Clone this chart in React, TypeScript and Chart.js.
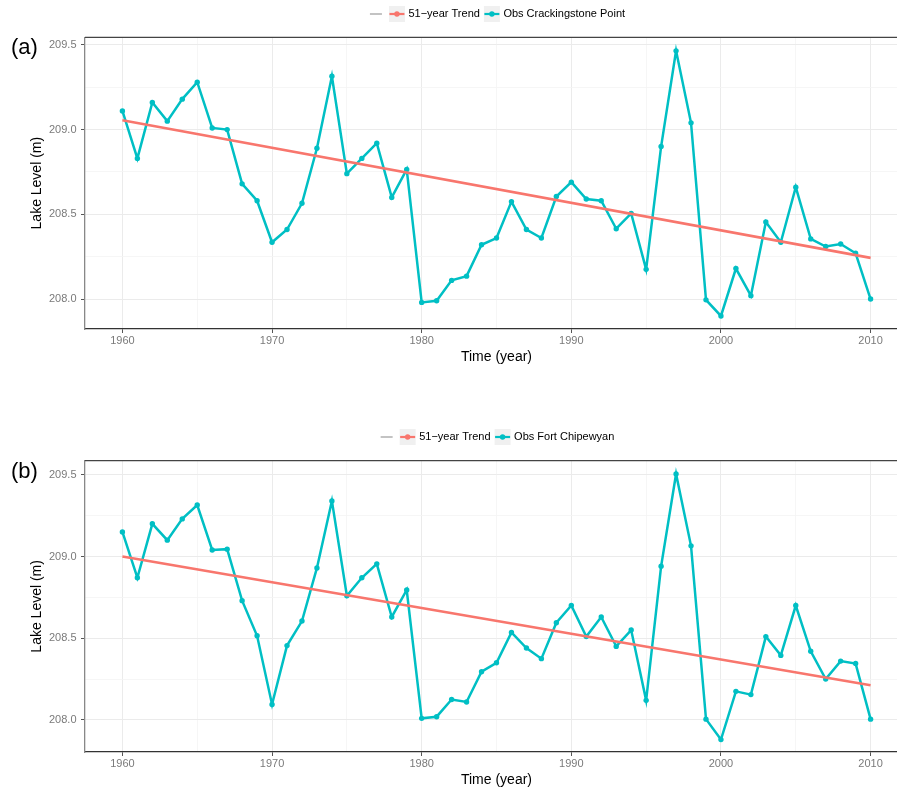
import React, { useEffect, useRef } from 'react';
import { Chart, registerables } from 'chart.js';
Chart.register(...registerables);

// ---------- data ----------
const years = [
  1960, 1961, 1962, 1963, 1964, 1965, 1966, 1967, 1968, 1969,
  1970, 1971, 1972, 1973, 1974, 1975, 1976, 1977, 1978, 1979,
  1980, 1981, 1982, 1983, 1984, 1985, 1986, 1987, 1988, 1989,
  1990, 1991, 1992, 1993, 1994, 1995, 1996, 1997, 1998, 1999,
  2000, 2001, 2002, 2003, 2004, 2005, 2006, 2007, 2008, 2009, 2010,
];

const obsCrackingstone = [
  209.11, 208.83, 209.16, 209.05, 209.18, 209.28, 209.01, 209.0, 208.68, 208.58,
  208.335, 208.41, 208.565, 208.89, 209.315, 208.74, 208.83, 208.92, 208.6, 208.765,
  207.98, 207.99, 208.11, 208.135, 208.32, 208.36, 208.575, 208.41, 208.36, 208.605,
  208.69, 208.59, 208.58, 208.415, 208.505, 208.175, 208.9, 209.465, 209.04, 207.995,
  207.9, 208.18, 208.02, 208.455, 208.335, 208.66, 208.355, 208.31, 208.325, 208.27, 208.0,
];

const obsFortChipewyan = [
  209.15, 208.87, 209.2, 209.1, 209.23, 209.315, 209.04, 209.045, 208.73, 208.515,
  208.095, 208.455, 208.605, 208.93, 209.34, 208.76, 208.87, 208.955, 208.63, 208.795,
  208.01, 208.02, 208.125, 208.11, 208.295, 208.35, 208.535, 208.44, 208.375, 208.595,
  208.7, 208.51, 208.63, 208.45, 208.55, 208.12, 208.94, 209.505, 209.065, 208.005,
  207.88, 208.175, 208.155, 208.51, 208.395, 208.7, 208.42, 208.25, 208.36, 208.345, 208.005,
];

const trendYears = [1960, 2010];
const trendCrackingstone = [209.055, 208.243];
const trendFortChipewyan = [209.0, 208.212];

const xTickValues = [1960, 1965, 1970, 1975, 1980, 1985, 1990, 1995, 2000, 2005, 2010];
const xMajorTicks = [1960, 1970, 1980, 1990, 2000, 2010];
const yTickValues = [208.0, 208.25, 208.5, 208.75, 209.0, 209.25, 209.5];
const yMajorTicks = [208.0, 208.5, 209.0, 209.5];

const trendName = '51\u2212year Trend';
const obsNames = ['Obs Crackingstone Point', 'Obs Fort Chipewyan'];
const panelTags = ['(a)', '(b)'];

// ---------- styles ----------
const FONT = '"Liberation Sans", Arial, Helvetica, sans-serif';
const TEAL = '#00BFC4';
const RED = '#F8766D';

const isMajor = (list: number[], v: any) => list.some((m) => Math.abs(m - v) < 1e-6);

const ggPlugin = {
  id: 'ggExtras',
  afterDraw(chart: any, _args: any, opts: any) {
    const { ctx, chartArea } = chart;
    ctx.save();
    // top + right panel border
    ctx.strokeStyle = '#444';
    ctx.lineWidth = 1.2;
    ctx.beginPath();
    ctx.moveTo(chartArea.left, chartArea.top);
    ctx.lineTo(chartArea.right, chartArea.top);
    ctx.lineTo(chartArea.right, chartArea.bottom);
    ctx.stroke();

    // legend
    ctx.font = `11px ${FONT}`;
    const items = opts.items as { label: string; color: string }[];
    const key = 16;
    const widths = items.map((it) => ctx.measureText(it.label).width);
    const total =
      key + 5 + items.reduce((s, _it, i) => s + key + 3.5 + widths[i], 0) + 4 * (items.length - 1);
    let x = (chartArea.left + chartArea.right) / 2 - total / 2;
    const y = opts.legendY;
    ctx.strokeStyle = '#555';
    ctx.lineWidth = 0.7;
    ctx.beginPath();
    ctx.moveTo(x + 2, y);
    ctx.lineTo(x + key - 2, y);
    ctx.stroke();
    x += key + 5;
    items.forEach((it, i) => {
      ctx.fillStyle = '#f0f0f0';
      ctx.fillRect(x, y - key / 2, key, key);
      ctx.strokeStyle = it.color;
      ctx.lineWidth = 2.2;
      ctx.beginPath();
      ctx.moveTo(x + 0.5, y);
      ctx.lineTo(x + key - 0.5, y);
      ctx.stroke();
      ctx.fillStyle = it.color;
      ctx.beginPath();
      ctx.arc(x + key / 2, y, 2.7, 0, Math.PI * 2);
      ctx.fill();
      x += key + 3.5;
      ctx.fillStyle = '#000';
      ctx.textAlign = 'left';
      ctx.textBaseline = 'middle';
      ctx.fillText(it.label, x, y);
      x += widths[i] + 4;
    });

    // panel tag
    ctx.font = `22px ${FONT}`;
    ctx.fillStyle = '#000';
    ctx.textAlign = 'left';
    ctx.textBaseline = 'middle';
    ctx.fillText(opts.tag, 11, opts.tagY);
    ctx.restore();
  },
};

type PanelProps = {
  obs: number[];
  trend: number[];
  obsName: string;
  tag: string;
  yMin: number;
  yMax: number;
  top: number;
  xAxisHeight: number;
  xTitlePad: number;
  legendY: number;
  tagY: number;
};

function Panel(p: PanelProps) {
  const ref = useRef<HTMLCanvasElement | null>(null);
  useEffect(() => {
    if (!ref.current) return;
    const chart = new Chart(ref.current, {
      type: 'line',
      data: {
        datasets: [
          {
            label: trendName,
            data: trendYears.map((yr, i) => ({ x: yr, y: p.trend[i] })),
            borderColor: RED,
            backgroundColor: RED,
            borderWidth: 2.6,
            pointRadius: 0,
            tension: 0,
          },
          {
            label: p.obsName,
            data: years.map((yr, i) => ({ x: yr, y: p.obs[i] })),
            borderColor: TEAL,
            backgroundColor: TEAL,
            borderWidth: 2.5,
            pointRadius: 2.7,
            pointBorderWidth: 0,
            pointBackgroundColor: TEAL,
            tension: 0,
          },
        ],
      },
      options: {
        responsive: false,
        animation: false,
        events: [],
        layout: { padding: { top: p.top, left: 0, right: 1, bottom: 0 } },
        plugins: {
          legend: { display: false },
          tooltip: { enabled: false },
          ggExtras: {
            items: [
              { label: trendName, color: RED },
              { label: p.obsName, color: TEAL },
            ],
            legendY: p.legendY,
            tag: p.tag,
            tagY: p.tagY,
          },
        } as any,
        scales: {
          x: {
            type: 'linear',
            min: 1957.5,
            max: 2012.5,
            afterBuildTicks: (scale: any) => {
              scale.ticks = xTickValues.map((v) => ({ value: v }));
            },
            afterFit: (scale: any) => {
              scale.height = p.xAxisHeight;
            },
            ticks: {
              autoSkip: false,
              maxRotation: 0,
              padding: 1.5,
              color: '#7a7a7a',
              font: { family: FONT, size: 11 },
              callback: (v: any) => (isMajor(xMajorTicks, v) ? String(v) : ''),
            },
            grid: {
              color: (c: any) => (isMajor(xMajorTicks, c.tick?.value) ? '#ebebeb' : '#f4f4f4'),
              lineWidth: (c: any) => (isMajor(xMajorTicks, c.tick?.value) ? 1 : 0.8),
              tickColor: (c: any) => (isMajor(xMajorTicks, c.tick?.value) ? '#555' : 'rgba(0,0,0,0)'),
              tickLength: 4,
              tickWidth: 1,
            },
            border: { display: true, color: '#333', width: 1.3 },
            title: {
              display: true,
              text: 'Time (year)',
              color: '#000',
              font: { family: FONT, size: 14, lineHeight: 1 },
              padding: { top: 0, bottom: p.xTitlePad },
            },
          },
          y: {
            type: 'linear',
            min: p.yMin,
            max: p.yMax,
            afterBuildTicks: (scale: any) => {
              scale.ticks = yTickValues.map((v) => ({ value: v }));
            },
            afterFit: (scale: any) => {
              scale.width = 85;
            },
            ticks: {
              autoSkip: false,
              padding: 4.5,
              color: '#7a7a7a',
              font: { family: FONT, size: 11 },
              callback: (v: any) => (isMajor(yMajorTicks, v) ? Number(v).toFixed(1) : ''),
            },
            grid: {
              color: (c: any) => (isMajor(yMajorTicks, c.tick?.value) ? '#ebebeb' : '#f4f4f4'),
              lineWidth: (c: any) => (isMajor(yMajorTicks, c.tick?.value) ? 1 : 0.8),
              tickColor: (c: any) => (isMajor(yMajorTicks, c.tick?.value) ? '#555' : 'rgba(0,0,0,0)'),
              tickLength: 4,
              tickWidth: 1,
            },
            border: { display: true, color: '#888', width: 1.3 },
            title: {
              display: true,
              text: 'Lake Level (m)',
              color: '#000',
              font: { family: FONT, size: 14, lineHeight: 1 },
              padding: { top: 30.5, bottom: 0 },
            },
          },
        },
      },
      plugins: [ggPlugin as any],
    });
    return () => chart.destroy();
  }, []);
  return (
    <canvas ref={ref} width={912} height={394} style={{ display: 'block', width: 912, height: 394 }} />
  );
}

export default function App() {
  return (
    <div
      style={{
        position: 'absolute',
        left: 0,
        top: 0,
        width: 897,
        height: 788,
        overflow: 'hidden',
        background: '#fff',
      }}
    >
      <Panel
        obs={obsCrackingstone}
        trend={trendCrackingstone}
        obsName={obsNames[0]}
        tag={panelTags[0]}
        yMin={207.823}
        yMax={209.545}
        top={37.3}
        xAxisHeight={65}
        xTitlePad={30}
        legendY={14}
        tagY={48}
      />
      <Panel
        obs={obsFortChipewyan}
        trend={trendFortChipewyan}
        obsName={obsNames[1]}
        tag={panelTags[1]}
        yMin={207.804}
        yMax={209.586}
        top={66.7}
        xAxisHeight={36}
        xTitlePad={1}
        legendY={43}
        tagY={78}
      />
    </div>
  );
}
